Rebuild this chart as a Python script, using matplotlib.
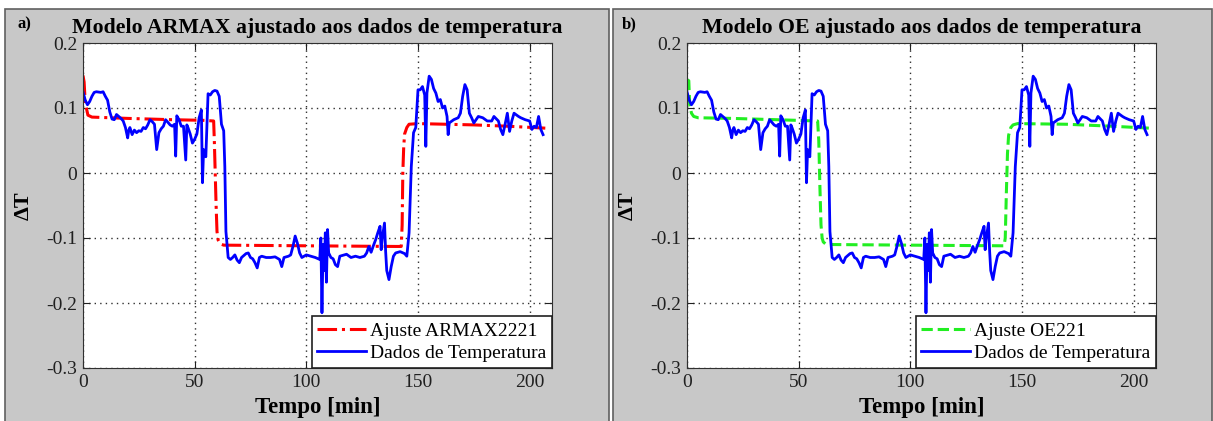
import matplotlib
matplotlib.use("Agg")
import matplotlib.pyplot as plt
from matplotlib.patches import Rectangle

plt.rcParams['font.family'] = ['Liberation Serif', 'DejaVu Serif']
plt.rcParams['axes.unicode_minus'] = False

# measured temperature data (same in both panels)
t_data = [0, 1, 2, 3, 4, 5, 6, 8, 9, 10, 11, 12, 13, 14, 15, 16, 17, 18, 19, 20,
          20.5, 21, 22, 23, 24, 25, 26, 27, 28, 29, 30, 31, 32, 33, 34, 35, 36, 37,
          38, 39, 40, 41, 41.5, 42, 43, 44, 45, 46, 46.5, 47, 48, 49, 50, 51, 52,
          53, 53.5, 54, 55, 55.5, 56, 57, 58, 59, 60, 61, 62, 63, 63.5, 64, 65, 66,
          67, 68, 69, 70, 71, 72, 73, 74, 75, 76, 77, 78, 79, 80, 82, 84, 86, 88,
          89, 90, 92, 93, 94, 95, 96, 97, 98, 100, 102, 104, 106, 106.5, 107, 107.5,
          108, 108.5, 109, 109.5, 110, 111, 112, 113, 114, 115, 116, 118, 120, 122,
          124, 126, 127, 128, 129, 130, 131, 132, 133, 133.5, 134, 135, 135.5, 136,
          137, 138, 139, 140, 142, 144, 145, 146, 147, 148, 149, 150, 151, 152, 153,
          153.5, 154, 155, 156, 157, 158, 159, 160, 161, 162, 163, 163.5, 164, 166,
          168, 169, 170, 171, 172, 173, 174, 175, 177, 179, 181, 183, 184, 186, 187,
          188, 189, 190, 191, 192, 193, 195, 196, 198, 200, 201, 202, 203, 204, 205,
          206]
dT_data = [0.125, 0.112, 0.105, 0.110, 0.118, 0.124, 0.125, 0.124, 0.125, 0.118,
           0.112, 0.094, 0.083, 0.082, 0.090, 0.087, 0.084, 0.080, 0.070, 0.054,
           0.066, 0.070, 0.059, 0.066, 0.062, 0.065, 0.064, 0.070, 0.068, 0.074,
           0.082, 0.079, 0.075, 0.036, 0.062, 0.068, 0.072, 0.082, 0.078, 0.074,
           0.072, 0.075, 0.026, 0.088, 0.082, 0.072, 0.072, 0.020, 0.074, 0.070,
           0.060, 0.046, 0.052, 0.060, 0.085, 0.097, -0.015, 0.036, 0.025, 0.072,
           0.122, 0.120, 0.125, 0.127, 0.126, 0.118, 0.075, 0.065, 0.010, -0.090,
           -0.130, -0.133, -0.130, -0.126, -0.134, -0.138, -0.130, -0.127, -0.124,
           -0.123, -0.130, -0.132, -0.138, -0.146, -0.130, -0.128, -0.130, -0.130,
           -0.129, -0.133, -0.144, -0.130, -0.128, -0.126, -0.113, -0.097, -0.108,
           -0.123, -0.130, -0.126, -0.128, -0.130, -0.133, -0.100, -0.215, -0.110,
           -0.150, -0.092, -0.168, -0.087, -0.123, -0.130, -0.132, -0.141, -0.144,
           -0.128, -0.127, -0.125, -0.130, -0.128, -0.130, -0.128, -0.123, -0.113,
           -0.122, -0.112, -0.103, -0.092, -0.082, -0.118, -0.100, -0.077, -0.120,
           -0.150, -0.164, -0.144, -0.128, -0.123, -0.121, -0.124, -0.128, -0.092,
           0.010, 0.062, 0.070, 0.128, 0.128, 0.133, 0.120, 0.041, 0.123, 0.149,
           0.144, 0.130, 0.123, 0.110, 0.113, 0.100, 0.103, 0.087, 0.059, 0.077,
           0.082, 0.085, 0.092, 0.118, 0.136, 0.128, 0.092, 0.085, 0.077, 0.087,
           0.085, 0.080, 0.080, 0.087, 0.080, 0.067, 0.059, 0.075, 0.092, 0.064,
           0.080, 0.092, 0.087, 0.085, 0.082, 0.080, 0.067, 0.072, 0.070, 0.087,
           0.067, 0.059]

# ARMAX2221 fit
t_armax = [0, 0.5, 1, 2.2, 4, 20, 40, 54, 58.5, 58.8, 59.2, 59.6, 60, 60.5, 61.5,
           63, 100, 140, 142.5, 142.9, 143.2, 143.6, 144, 145, 146, 150, 175, 190, 207]
dT_armax = [0.150, 0.140, 0.108, 0.089, 0.086, 0.084, 0.082, 0.081, 0.080, 0.050,
            0.000, -0.050, -0.090, -0.103, -0.109, -0.111, -0.112, -0.113, -0.113,
            -0.080, 0.000, 0.040, 0.060, 0.070, 0.075, 0.076, 0.074, 0.072, 0.069]

# OE221 fit
t_oe = [0, 0.8, 1.2, 2, 3, 5, 20, 40, 58.5, 59, 59.5, 60, 60.5, 61, 62, 63, 100,
        142, 142.5, 143, 143.5, 144, 145, 146, 148, 170, 190, 207]
dT_oe = [0.143, 0.142, 0.105, 0.092, 0.087, 0.085, 0.084, 0.082, 0.080, 0.050,
         -0.020, -0.080, -0.100, -0.106, -0.109, -0.110, -0.111, -0.112, -0.100,
         -0.030, 0.030, 0.058, 0.070, 0.074, 0.076, 0.075, 0.072, 0.069]

x_ticks = [0, 50, 100, 150, 200]
y_ticks = [0.2, 0.1, 0, -0.1, -0.2, -0.3]
y_labels = ['0.2', '0.1', '0', '-0.1', '-0.2', '-0.3']

W, H = 1213, 421
fig = plt.figure(figsize=(W / 100, H / 100), dpi=100)

# grey panel backgrounds
for x0, x1 in [(5, 609), (613, 1212)]:
    fig.patches.append(Rectangle((x0 / W, -0.01), (x1 - x0) / W, 1 - 9 / H + 0.01,
                                 transform=fig.transFigure, facecolor='#c8c8c8',
                                 edgecolor='#606060', linewidth=1.2, zorder=-5))

panels = [
    (83, 'a)', 'Modelo ARMAX ajustado aos dados de temperatura',
     t_armax, dT_armax, 'Ajuste ARMAX2221', dict(color='#ff0000', linestyle='-.', linewidth=2.2)),
    (687, 'b)', 'Modelo OE ajustado aos dados de temperatura',
     t_oe, dT_oe, 'Ajuste OE221', dict(color='#22ee22', linestyle='--', linewidth=2.2)),
]

for left, tag, title, tm, ym, lab, style in panels:
    ax = fig.add_axes([left / W, 1 - 368 / H, 469 / W, 325 / H])
    ax.plot(tm, ym, label=lab, **style)
    ax.plot(t_data, dT_data, color='#0000ff', linewidth=2.0, label='Dados de Temperatura')
    ax.set_xlim(0, 210)
    ax.set_ylim(-0.3, 0.2)
    ax.set_xticks(x_ticks)
    ax.set_yticks(y_ticks)
    ax.set_yticklabels(y_labels)
    ax.tick_params(direction='in', top=True, right=True, length=5, labelsize=14,
                   colors='#202020', pad=4)
    ax.grid(True, linestyle=(0, (1, 3)), color='#303030', linewidth=1.0)
    ax.set_title(title, fontsize=15.7, fontweight='bold', pad=7)
    ax.set_xlabel('Tempo [min]', fontsize=16.5, fontweight='bold', labelpad=5)
    ax.set_ylabel('ΔT', fontsize=16, fontweight='bold', labelpad=9)
    for s in ax.spines.values():
        s.set_color('#303030')
    leg = ax.legend(loc='lower right', borderaxespad=0, fancybox=False, framealpha=1,
                    edgecolor='#202020', fontsize=14, handlelength=2.5,
                    borderpad=0.3, labelspacing=0.25, handletextpad=0.2)
    leg.get_frame().set_linewidth(1.2)
    fig.text((left - 65) / W, 1 - 28 / H, tag, fontsize=12, fontweight='bold')

fig.savefig('out.png', dpi=100)
